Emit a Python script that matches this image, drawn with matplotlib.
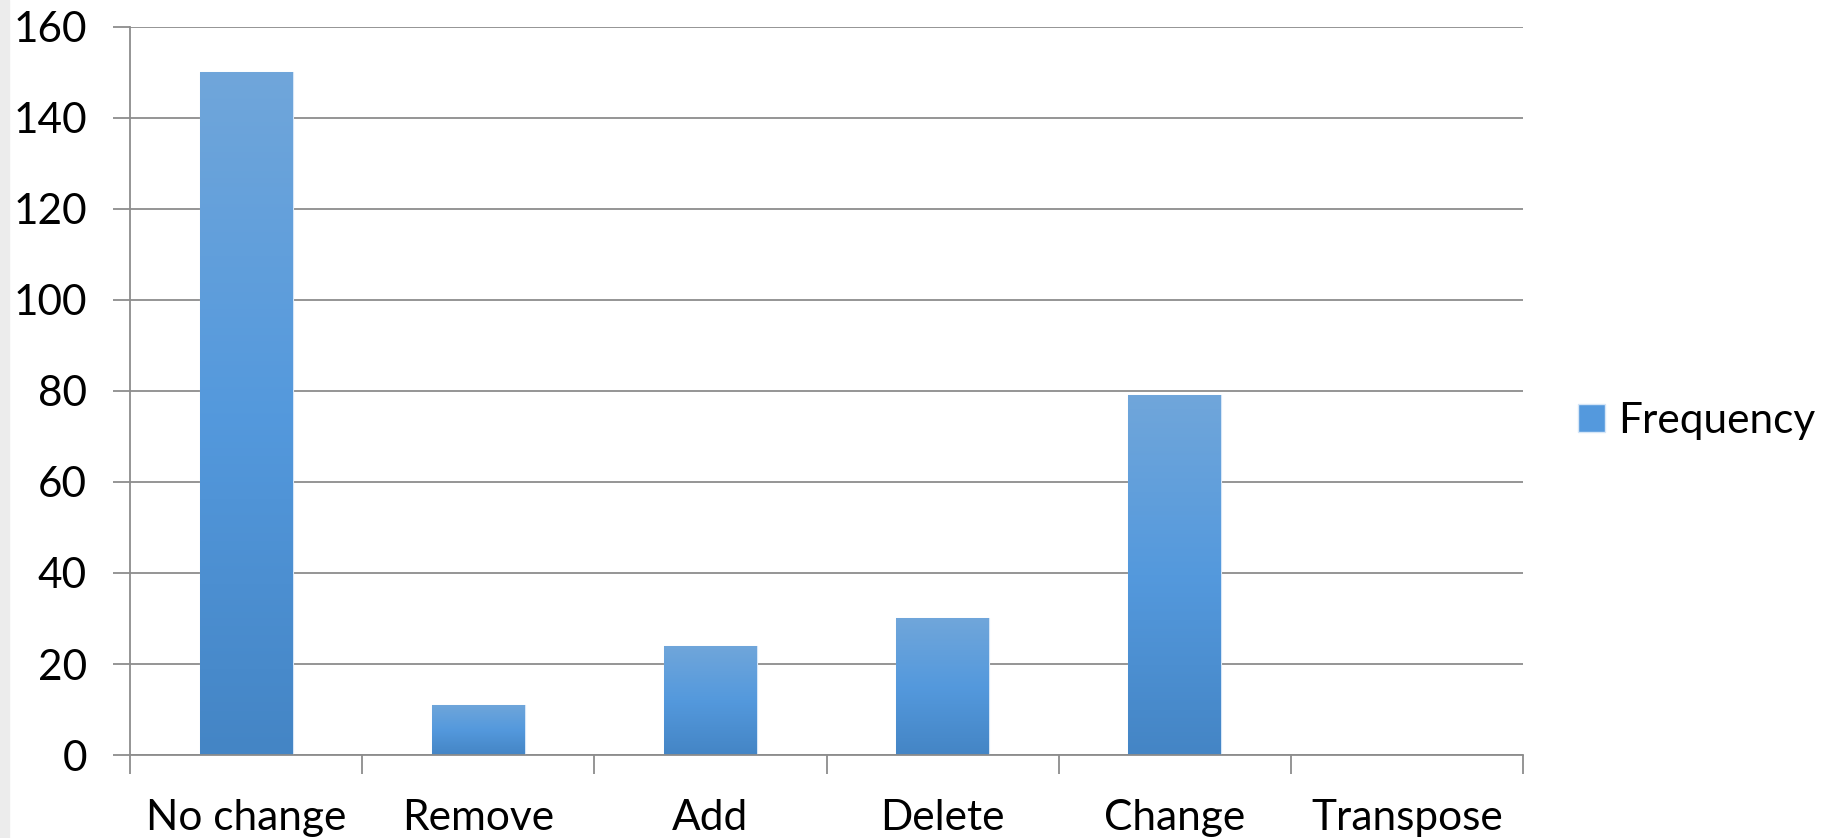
import numpy as np
import matplotlib.pyplot as plt
from matplotlib.colors import LinearSegmentedColormap
from matplotlib.patches import Rectangle

# data
categories = ['No change', 'Remove', 'Add', 'Delete', 'Change', 'Transpose']
frequency = [150, 11, 24, 30, 79, 0]
series_name = 'Frequency'

plt.rcParams['font.family'] = ['Lato', 'DejaVu Sans']

fig = plt.figure(figsize=(18.37, 8.38), dpi=100)
ax = fig.add_axes([0.0708, 0.099, 0.7583, 0.869])

# light strip at the left edge of the picture
fig.patches.append(Rectangle((0, 0), 0.005, 1, transform=fig.transFigure,
                             color='#ececec', zorder=0))

x = np.arange(len(categories))
bars = ax.bar(x, frequency, width=0.4, color='#5499dd', edgecolor='#d6e6f7',
              linewidth=0.8, zorder=2, label=series_name)

# excel style vertical gradient
cmap = LinearSegmentedColormap.from_list('grad', ['#4485c5', '#5499dd', '#70a6da'])
grad = np.linspace(0, 1, 256).reshape(-1, 1)
for b in bars:
    h = b.get_height()
    if h <= 0:
        continue
    im = ax.imshow(grad, cmap=cmap, origin='lower', aspect='auto', zorder=2.5,
                   extent=[b.get_x(), b.get_x() + b.get_width(), 0, h])
    im.set_clip_path(b)

ax.set_xlim(-0.5, len(categories) - 0.5)
ax.set_ylim(0, 160)
ax.set_yticks(range(0, 161, 20))
ax.yaxis.grid(True, color='#8c8c8c', linewidth=1.3)
ax.set_axisbelow(True)

ax.set_xticks(x)
ax.set_xticklabels(categories)
ax.set_xticks(np.arange(len(categories) + 1) - 0.5, minor=True)
ax.tick_params(axis='x', which='major', length=0, pad=32, labelsize=30.5)
ax.tick_params(axis='x', which='minor', length=14, width=1.3, color='#8c8c8c')
ax.tick_params(axis='y', length=12, width=1.3, color='#8c8c8c', pad=19, labelsize=30.5)

for s in ['top', 'right']:
    ax.spines[s].set_visible(False)
for s in ['left', 'bottom']:
    ax.spines[s].set_color('#8c8c8c')
    ax.spines[s].set_linewidth(1.3)

ax.set_xlim(-0.5, len(categories) - 0.5)
ax.set_ylim(0, 160)

fig.legend(handles=[Rectangle((0, 0), 1, 1, facecolor='#5499dd', edgecolor='#d6e6f7')],
           labels=[series_name], loc='center left', bbox_to_anchor=(0.838, 0.498),
           frameon=False, fontsize=30.5, handlelength=0.65, handleheight=0.65,
           handletextpad=0.3)

fig.savefig('out.png', dpi=100)
